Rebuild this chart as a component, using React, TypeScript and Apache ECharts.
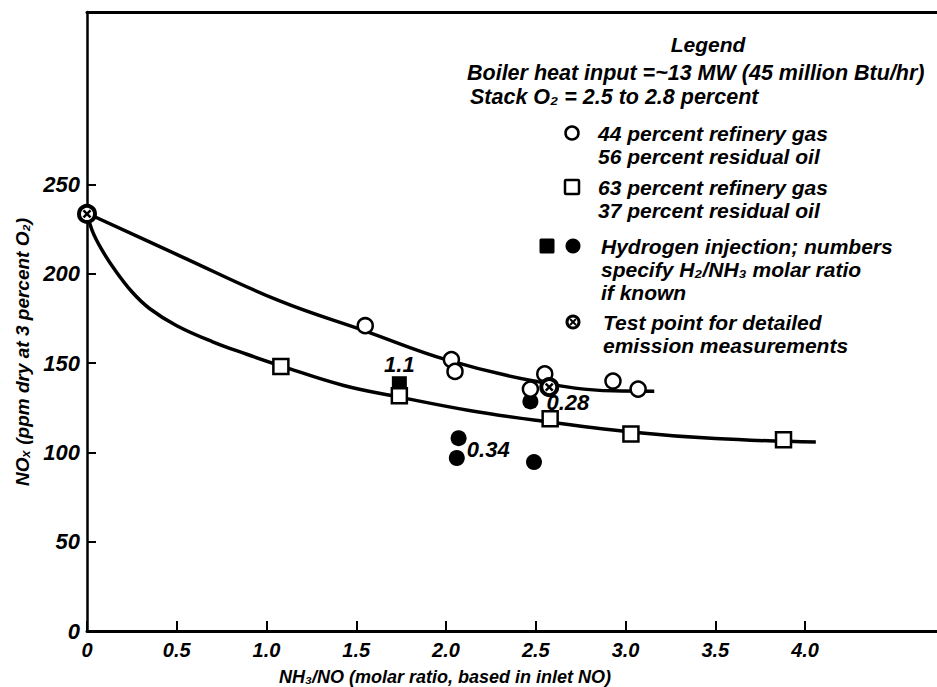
import React, { useEffect, useRef } from "react";
import * as echarts from "echarts";

// ---- data ----
const xTicks = [0, 0.5, 1.0, 1.5, 2.0, 2.5, 3.0, 3.5, 4.0];
const yTicks = [0, 50, 100, 150, 200, 250];

// 44 percent refinery gas / 56 percent residual oil (open circles)
const gas44 = [
  [1.55, 171], [2.03, 152], [2.05, 145.4], [2.47, 135.5],
  [2.55, 144], [2.93, 140], [3.07, 135.5],
];
// 63 percent refinery gas / 37 percent residual oil (open squares)
const gas63 = [
  [1.08, 148.2], [1.74, 131.7], [2.58, 118.9], [3.03, 110.3], [3.88, 107.1],
];
// Hydrogen injection (filled)
const h2Squares = [[1.74, 138.5]];
const h2SquareNotes = ["1.1"];
const h2Circles = [[2.47, 128.6], [2.07, 108], [2.06, 96.9], [2.49, 94.6]];
const h2CircleNotes = ["0.28", "", "0.34", ""];
// Test points for detailed emission measurements
const testPoints = [[0, 233.6], [2.575, 136.6]];

// fitted curves
const upperCurve = [
  [0, 234], [0.52, 210], [1.07, 185], [1.55, 168], [2.0, 152],
  [2.49, 140], [2.93, 134.5], [3.16, 134.3],
];
const lowerCurve = [
  [0, 234], [0.03, 224], [0.08, 214], [0.15, 203], [0.25, 190],
  [0.35, 180.5], [0.5, 171], [0.7, 162], [0.89, 155], [1.08, 148.5],
  [1.43, 137.5], [1.74, 131], [2.13, 123.5], [2.5, 118], [3.03, 111.5],
  [3.5, 107.8], [4.06, 105.8],
];

const legendTitle = "Legend";
const legendLines = [
  "Boiler heat input =~13 MW (45 million Btu/hr)",
  "Stack O\u2082 = 2.5 to 2.8 percent",
];
const itemGas44 = ["44 percent refinery gas", "56 percent residual oil"];
const itemGas63 = ["63 percent refinery gas", "37 percent residual oil"];
const itemH2 = [
  "Hydrogen injection; numbers",
  "specify H\u2082/NH\u2083 molar ratio",
  "if known",
];
const itemTest = ["Test point for detailed", "emission measurements"];
const xTitle = "NH\u2083/NO (molar ratio, based in inlet NO)";
const yTitle = "NO\u2093 (ppm dry at 3 percent O\u2082)";

const FONT = '"Liberation Sans", Arial, sans-serif';
const font = (s: number) => `italic bold ${s}px ${FONT}`;

export default function App() {
  const ref = useRef<HTMLDivElement>(null);
  useEffect(() => {
    if (!ref.current) return;
    const chart = echarts.init(ref.current, undefined, { renderer: "svg" });

    const txt = (text: string, x: number, y: number, align = "left", size = 21) => ({
      type: "text",
      x,
      y,
      silent: true,
      style: {
        text,
        font: font(size),
        fill: "#000",
        textAlign: align,
        textVerticalAlign: "middle",
      },
    });
    const lines = (arr: string[], x: number, y0: number, dy: number) =>
      arr.map((t, i) => txt(t, x, y0 + i * dy));

    const graphic: any[] = [
      txt(legendTitle, 708, 44, "center"),
      txt(legendLines[0], 467, 73, "left", 21.5),
      txt(legendLines[1], 470, 97, "left", 21.5),
      ...lines(itemGas44, 598, 133, 23.5),
      ...lines(itemGas63, 598, 187, 23.5),
      ...lines(itemH2, 601, 246, 23),
      ...lines(itemTest, 603, 322, 23),
      {
        type: "circle",
        shape: { cx: 572, cy: 133, r: 6.5 },
        style: { fill: "#fff", stroke: "#000", lineWidth: 2.5 },
      },
      {
        type: "rect",
        shape: { x: 565, y: 180, width: 14, height: 14, r: 1 },
        style: { fill: "#fff", stroke: "#000", lineWidth: 2.5 },
      },
      {
        type: "rect",
        shape: { x: 539.5, y: 238.5, width: 15, height: 15, r: 1.5 },
        style: { fill: "#000" },
      },
      { type: "circle", shape: { cx: 573, cy: 246, r: 7.5 }, style: { fill: "#000" } },
      {
        type: "circle",
        shape: { cx: 573, cy: 322, r: 6 },
        style: { fill: "#fff", stroke: "#000", lineWidth: 3 },
      },
      {
        type: "line",
        shape: { x1: 570, y1: 319, x2: 576, y2: 325 },
        style: { stroke: "#000", lineWidth: 2 },
      },
      {
        type: "line",
        shape: { x1: 576, y1: 319, x2: 570, y2: 325 },
        style: { stroke: "#000", lineWidth: 2 },
      },
      {
        type: "text",
        x: 22,
        y: 352,
        rotation: Math.PI / 2,
        silent: true,
        style: {
          text: yTitle,
          font: font(19),
          fill: "#000",
          textAlign: "center",
          textVerticalAlign: "middle",
        },
      },
      txt(xTitle, 445, 677, "center", 18),
    ];

    const openCircle = {
      symbol: "circle",
      symbolSize: 15,
      itemStyle: { color: "#fff", borderColor: "#000", borderWidth: 2.5, opacity: 1 },
    };
    const openSquare = {
      symbol: "rect",
      symbolSize: 15,
      itemStyle: { color: "#fff", borderColor: "#000", borderWidth: 2.5, opacity: 1 },
    };
    const labelStyle = {
      show: true,
      color: "#000",
      fontFamily: FONT,
      fontStyle: "italic",
      fontWeight: "bold",
      fontSize: 22,
    };
    const axisFont = {
      color: "#000",
      fontFamily: FONT,
      fontStyle: "italic",
      fontWeight: "bold",
      fontSize: 20,
    };

    chart.setOption({
      animation: false,
      backgroundColor: "#fff",
      grid: { left: 87, right: 0, top: 12, bottom: 56, containLabel: false },
      xAxis: [
        {
          type: "value",
          min: 0,
          max: 4.735,
          interval: 0.5,
          axisLine: { show: true, onZero: false, lineStyle: { color: "#000", width: 3 } },
          axisTick: {
            show: true,
            inside: true,
            length: 10,
            customValues: xTicks,
            lineStyle: { color: "#000", width: 2 },
          },
          axisLabel: {
            ...axisFont,
            customValues: xTicks,
            margin: 9,
            formatter: (v: number) => (v === 0 ? "0" : v.toFixed(1)),
          },
          splitLine: { show: false },
        },
        {
          type: "value",
          position: "top",
          min: 0,
          max: 4.735,
          axisLine: { show: true, onZero: false, lineStyle: { color: "#000", width: 3 } },
          axisTick: { show: false },
          axisLabel: { show: false },
          splitLine: { show: false },
        },
      ],
      yAxis: {
        type: "value",
        min: 0,
        max: 346.7,
        interval: 50,
        axisLine: { show: true, onZero: false, lineStyle: { color: "#000", width: 2.5 } },
        axisTick: {
          show: true,
          inside: true,
          length: 9,
          customValues: yTicks.filter((v) => v > 0),
          lineStyle: { color: "#000", width: 2 },
        },
        axisLabel: {
          ...axisFont,
          fontSize: 22,
          customValues: yTicks,
          margin: 7,
        },
        splitLine: { show: false },
      },
      series: [
        {
          type: "line",
          data: upperCurve,
          smooth: 0.4,
          showSymbol: false,
          lineStyle: { color: "#000", width: 3.5 },
          silent: true,
          z: 2,
        },
        {
          type: "line",
          data: lowerCurve,
          smooth: 0.4,
          showSymbol: false,
          lineStyle: { color: "#000", width: 3.5 },
          silent: true,
          z: 2,
        },
        {
          type: "scatter",
          name: "H2 squares",
          data: h2Squares.map((p, i) => ({
            value: p,
            label: { ...labelStyle, formatter: h2SquareNotes[i], position: "top", distance: 1 },
          })),
          symbol: "rect",
          symbolSize: 15,
          itemStyle: { color: "#000", opacity: 1 },
          z: 3,
        },
        {
          type: "scatter",
          name: "H2 circles",
          data: h2Circles.map((p, i) => ({
            value: p,
            label: {
              ...labelStyle,
              show: h2CircleNotes[i] !== "",
              formatter: h2CircleNotes[i],
              position: "right",
              distance: i === 0 ? 8 : 2,
              offset: i === 2 ? [0, -8] : [0, 1],
            },
          })),
          symbol: "circle",
          symbolSize: 16,
          itemStyle: { color: "#000", opacity: 1 },
          z: 3,
        },
        { type: "scatter", name: "44%", data: gas44, ...openCircle, z: 4 },
        { type: "scatter", name: "63%", data: gas63, ...openSquare, z: 4 },
        {
          type: "scatter",
          name: "test",
          data: testPoints,
          symbol: "circle",
          symbolSize: 16,
          clip: false,
          itemStyle: { color: "#fff", borderColor: "#000", borderWidth: 4, opacity: 1 },
          z: 5,
        },
        {
          type: "scatter",
          name: "test x",
          data: testPoints,
          symbol: "path://M0 0L10 10M10 0L0 10",
          symbolSize: 7,
          clip: false,
          itemStyle: { color: "none", borderColor: "#000", borderWidth: 2.5, opacity: 1 },
          z: 6,
        },
      ],
      graphic,
    });
    return () => chart.dispose();
  }, []);
  return <div ref={ref} style={{ width: 937, height: 687, position: "absolute", left: 0, top: 0 }} />;
}
